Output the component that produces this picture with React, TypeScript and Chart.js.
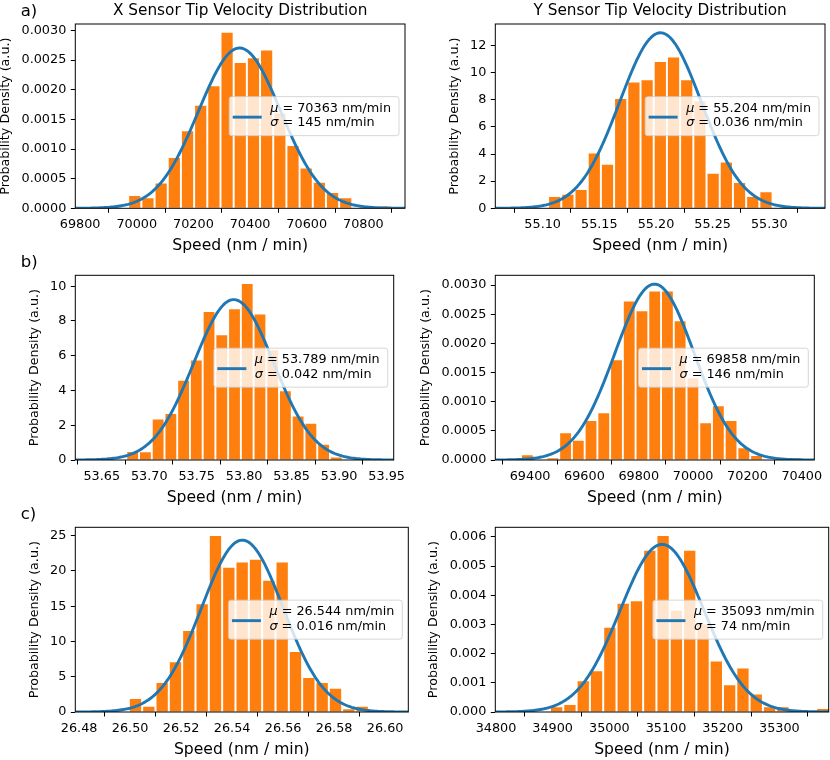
import React, { useEffect, useRef } from "react";
import { Chart, registerables } from "chart.js";

Chart.register(...registerables);

const FAMILY = '"DejaVu Sans", "Liberation Sans", sans-serif';
const BAR_COLOR = "#ff7f0e";
const LINE_COLOR = "#1f77b4";

// ---------------- text ----------------
const columnTitles = ["X Sensor Tip Velocity Distribution", "Y Sensor Tip Velocity Distribution"];
const rowLetters = ["a)", "b)", "c)"];
const xAxisLabel = "Speed (nm / min)";
const yAxisLabel = "Probability Density (a.u.)";

// ---------------- a) X sensor ----------------
const aXxTicks = ["69800", "70000", "70200", "70400", "70600", "70800"];
const aXyTicks = ["0.0000", "0.0005", "0.0010", "0.0015", "0.0020", "0.0025", "0.0030"];
const aXxLim = [69783, 70947];
const aXBinFirstCenter = 69993;
const aXBinWidth = 46.55;
const aXDensity = [0.000207, 0.000168, 0.00042, 0.000847, 0.0013, 0.00173, 0.00206, 0.00296, 0.00245, 0.00253, 0.00266, 0.0016, 0.00105, 0.00067, 0.00043, 0.00026, 0.00017, 0, 0, 0.00003];
const aXFit = [70363, 145, 0.002703]; // mu, sigma, amplitude
const aXLegend = ["70363 nm/min", "145 nm/min"];

// ---------------- a) Y sensor ----------------
const aYxTicks = ["55.10", "55.15", "55.20", "55.25", "55.30"];
const aYyTicks = ["0", "2", "4", "6", "8", "10", "12"];
const aYxLim = [55.0582, 55.3492];
const aYBinFirstCenter = 55.1106;
const aYBinWidth = 0.011656;
const aYDensity = [0.83, 1.0, 1.35, 4.04, 3.2, 8.06, 9.26, 9.43, 10.78, 11.1, 9.43, 7.89, 2.55, 3.38, 1.86, 0.83, 1.18];
const aYFit = [55.204, 0.036, 12.93];
const aYLegend = ["55.204 nm/min", "0.036 nm/min"];

// ---------------- b) X sensor ----------------
const bXxTicks = ["53.65", "53.70", "53.75", "53.80", "53.85", "53.90", "53.95"];
const bXyTicks = ["0", "2", "4", "6", "8", "10"];
const bXxLim = [53.6222, 53.9574];
const bXBinFirstCenter = 53.6826;
const bXBinWidth = 0.0134;
const bXDensity = [0.46, 0.44, 2.33, 2.65, 4.56, 5.73, 8.52, 7.17, 8.67, 10.12, 8.37, 6.31, 3.96, 2.5, 2.08, 0.88, 0.15];
const bXFit = [53.789, 0.042, 9.23];
const bXLegend = ["53.789 nm/min", "0.042 nm/min"];

// ---------------- b) Y sensor ----------------
const bYxTicks = ["69400", "69600", "69800", "70000", "70200", "70400"];
const bYyTicks = ["0.0000", "0.0005", "0.0010", "0.0015", "0.0020", "0.0025", "0.0030"];
const bYxLim = [69272, 70446];
const bYBinFirstCenter = 69390;
const bYBinWidth = 46.86;
const bYDensity = [0.00008, 0, 0.00003, 0.00046, 0.00033, 0.00067, 0.0008, 0.00171, 0.00272, 0.00255, 0.00289, 0.00289, 0.00238, 0.0014, 0.00063, 0.00092, 0.00067, 0.0002, 0.00007, 0, 0, 0.00003];
const bYFit = [69858, 146, 0.003017];
const bYLegend = ["69858 nm/min", "146 nm/min"];

// ---------------- c) X sensor ----------------
const cXxTicks = ["26.48", "26.50", "26.52", "26.54", "26.56", "26.58", "26.60"];
const cXyTicks = ["0", "5", "10", "15", "20", "25"];
const cXxLim = [26.4785, 26.6091];
const cXBinFirstCenter = 26.5021;
const cXBinWidth = 0.00523;
const cXDensity = [1.85, 0.76, 4.12, 7.05, 11.5, 15.3, 24.95, 20.45, 21.2, 21.6, 18.6, 21.2, 8.52, 4.83, 4.12, 3.31, 0.38, 0.76];
const cXFit = [26.544, 0.016, 24.38];
const cXLegend = ["26.544 nm/min", "0.016 nm/min"];

// ---------------- c) Y sensor ----------------
const cYxTicks = ["34800", "34900", "35000", "35100", "35200", "35300"];
const cYyTicks = ["0.000", "0.001", "0.002", "0.003", "0.004", "0.005", "0.006"];
const cYxLim = [34798.8, 35387];
const cYBinFirstCenter = 34907;
const cYBinWidth = 23.48;
const cYDensity = [0.00016, 0.00024, 0.00105, 0.0014, 0.00289, 0.00371, 0.0038, 0.00553, 0.00603, 0.00347, 0.00553, 0.003, 0.00173, 0.00092, 0.00149, 0.0006, 0.00016, 0.00016, 0, 0, 0.0001];
const cYFit = [35093, 74, 0.005748];
const cYLegend = ["35093 nm/min", "74 nm/min"];

// ---------------- layout (page pixels) ----------------
type PanelDef = {
  box: number[]; // axes L, T, R, B
  cl: number; ct: number; cw: number; ch: number; // canvas
  xTicks: string[]; yTicks: string[]; xLim: number[];
  first: number; bw: number; density: number[]; fit: number[]; legend: string[];
  title?: string; letter?: string;
};

const panels: PanelDef[] = [
  { box: [75.3, 24, 405, 208.3], cl: 0, ct: 0, cw: 415, ch: 257, xTicks: aXxTicks, yTicks: aXyTicks, xLim: aXxLim, first: aXBinFirstCenter, bw: aXBinWidth, density: aXDensity, fit: aXFit, legend: aXLegend, title: columnTitles[0], letter: rowLetters[0] },
  { box: [495.3, 24, 825, 208.3], cl: 405, ct: 0, cw: 425, ch: 257, xTicks: aYxTicks, yTicks: aYyTicks, xLim: aYxLim, first: aYBinFirstCenter, bw: aYBinWidth, density: aYDensity, fit: aYFit, legend: aYLegend, title: columnTitles[1] },
  { box: [75.3, 275.3, 393.7, 460], cl: 0, ct: 251, cw: 415, ch: 257, xTicks: bXxTicks, yTicks: bXyTicks, xLim: bXxLim, first: bXBinFirstCenter, bw: bXBinWidth, density: bXDensity, fit: bXFit, legend: bXLegend, letter: rowLetters[1] },
  { box: [495.3, 275.3, 814.3, 460], cl: 405, ct: 251, cw: 425, ch: 257, xTicks: bYxTicks, yTicks: bYyTicks, xLim: bYxLim, first: bYBinFirstCenter, bw: bYBinWidth, density: bYDensity, fit: bYFit, legend: bYLegend },
  { box: [75.3, 527.3, 408.3, 712], cl: 0, ct: 503, cw: 415, ch: 257, xTicks: cXxTicks, yTicks: cXyTicks, xLim: cXxLim, first: cXBinFirstCenter, bw: cXBinWidth, density: cXDensity, fit: cXFit, legend: cXLegend, letter: rowLetters[2] },
  { box: [495.3, 527.3, 828.7, 712], cl: 405, ct: 503, cw: 425, ch: 257, xTicks: cYxTicks, yTicks: cYyTicks, xLim: cYxLim, first: cYBinFirstCenter, bw: cYBinWidth, density: cYDensity, fit: cYFit, legend: cYLegend },
];

const TICK_FS = 12.8;
const CURVE_W = 2.9;
const font = (size: number, italic = false) => `${italic ? "italic " : ""}${size}px ${FAMILY}`;

function fitCurve(lim: number[], fit: number[]) {
  const [mu, sigma, amp] = fit;
  const pts: { x: number; y: number }[] = [];
  const n = 200;
  for (let i = 0; i <= n; i++) {
    const x = lim[0] + ((lim[1] - lim[0]) * i) / n;
    pts.push({ x, y: amp * Math.exp(-((x - mu) * (x - mu)) / (2 * sigma * sigma)) });
  }
  return pts;
}

function makeDecor(p: PanelDef) {
  return {
    id: "decor",
    afterDatasetsDraw(chart: any) {
      const { ctx, chartArea: ca } = chart;
      ctx.save();
      ctx.strokeStyle = "#000";
      ctx.lineWidth = 1;
      ctx.strokeRect(ca.left, ca.top, ca.right - ca.left, ca.bottom - ca.top);
      ctx.restore();
    },
    afterDraw(chart: any) {
      const { ctx, chartArea: ca } = chart;
      ctx.save();
      // ---- legend ----
      const fs = TICK_FS;
      ctx.font = font(fs, true);
      const muW = ctx.measureText("μ").width;
      const sgW = ctx.measureText("σ").width;
      ctx.font = font(fs);
      const t1 = " = " + p.legend[0];
      const t2 = " = " + p.legend[1];
      const w1 = muW + ctx.measureText(t1).width;
      const w2 = sgW + ctx.measureText(t2).width;
      const boxW = 41 + Math.max(w1, w2) + 8;
      const boxH = 39;
      const right = ca.right - 6;
      const left = right - boxW;
      const cy = (ca.top + ca.bottom) / 2;
      const top = cy - boxH / 2;
      const r = 2.5;
      ctx.beginPath();
      ctx.moveTo(left + r, top);
      ctx.lineTo(right - r, top);
      ctx.quadraticCurveTo(right, top, right, top + r);
      ctx.lineTo(right, top + boxH - r);
      ctx.quadraticCurveTo(right, top + boxH, right - r, top + boxH);
      ctx.lineTo(left + r, top + boxH);
      ctx.quadraticCurveTo(left, top + boxH, left, top + boxH - r);
      ctx.lineTo(left, top + r);
      ctx.quadraticCurveTo(left, top, left + r, top);
      ctx.closePath();
      ctx.fillStyle = "rgba(255,255,255,0.8)";
      ctx.fill();
      ctx.strokeStyle = "rgba(204,204,204,0.8)";
      ctx.lineWidth = 1;
      ctx.stroke();
      // handle
      ctx.strokeStyle = LINE_COLOR;
      ctx.lineWidth = CURVE_W;
      ctx.beginPath();
      ctx.moveTo(left + 3.5, cy + 1);
      ctx.lineTo(left + 32.5, cy + 1);
      ctx.stroke();
      // labels
      const tx = left + 41;
      ctx.fillStyle = "#000";
      ctx.textBaseline = "alphabetic";
      ctx.textAlign = "left";
      ctx.font = font(fs, true);
      ctx.fillText("μ", tx, cy - 4.5);
      ctx.fillText("σ", tx, cy + 10.3);
      ctx.font = font(fs);
      ctx.fillText(t1, tx + muW, cy - 4.5);
      ctx.fillText(t2, tx + sgW, cy + 10.3);

      // ---- title ----
      const cx = (ca.left + ca.right) / 2;
      if (p.title) {
        ctx.font = font(15.3);
        ctx.textAlign = "center";
        ctx.fillText(p.title, cx, ca.top - 8.8);
      }
      // ---- x label ----
      ctx.font = font(15.6);
      ctx.textAlign = "center";
      ctx.fillText(xAxisLabel, cx, ca.bottom + 42);
      // ---- y label ----
      ctx.font = font(TICK_FS);
      let maxW = 0;
      for (const t of p.yTicks) maxW = Math.max(maxW, ctx.measureText(t).width);
      const bx = ca.left - 9 - maxW - 12.5;
      ctx.save();
      ctx.translate(bx, cy);
      ctx.rotate(-Math.PI / 2);
      ctx.font = font(12.7);
      ctx.textAlign = "center";
      ctx.fillText(yAxisLabel, 0, 0);
      ctx.restore();
      // ---- row letter ----
      if (p.letter) {
        ctx.font = font(16.5);
        ctx.textAlign = "left";
        ctx.fillText(p.letter, ca.left - 54.6, ca.top - 8.5);
      }
      ctx.restore();
    },
  };
}

function Panel({ p }: { p: PanelDef }) {
  const ref = useRef<HTMLCanvasElement>(null);
  useEffect(() => {
    const canvas = ref.current;
    if (!canvas) return;
    const [L, T, R, B] = p.box;
    const bars = p.density.map((y, i) => ({ x: p.first + i * p.bw, y }));
    const curve = fitCurve(p.xLim, p.fit);
    const yMax = 1.05 * Math.max(Math.max(...p.density), p.fit[2]);
    const chart = new Chart(canvas, {
      type: "bar",
      data: {
        datasets: [
          {
            type: "bar",
            data: bars,
            backgroundColor: BAR_COLOR,
            borderWidth: 0,
            barPercentage: 0.85,
            categoryPercentage: 1,
            order: 1,
          } as any,
          {
            type: "line",
            data: curve,
            borderColor: LINE_COLOR,
            borderWidth: CURVE_W,
            borderJoinStyle: "round",
            pointRadius: 0,
            fill: false,
            tension: 0,
            order: 0,
            clip: 0,
          } as any,
        ],
      },
      options: {
        responsive: false,
        maintainAspectRatio: false,
        animation: false,
        devicePixelRatio: 1,
        events: [],
        layout: { padding: { left: 0, top: T - p.ct, right: p.cw - (R - p.cl), bottom: 0 } },
        plugins: { legend: { display: false }, tooltip: { enabled: false }, title: { display: false } },
        scales: {
          x: {
            type: "linear",
            min: p.xLim[0],
            max: p.xLim[1],
            offset: false,
            bounds: "data",
            grid: { drawOnChartArea: false, drawTicks: true, tickLength: 4.5, color: "#000", lineWidth: 1 },
            border: { display: false },
            ticks: {
              color: "#000",
              font: { family: FAMILY, size: TICK_FS },
              padding: 4,
              maxRotation: 0,
              minRotation: 0,
              autoSkip: false,
              includeBounds: false,
              callback: (_v: any, i: number) => p.xTicks[i] ?? "",
            },
            afterBuildTicks: (s: any) => {
              s.ticks = p.xTicks.map((t) => ({ value: parseFloat(t) }));
            },
            afterFit: (s: any) => {
              s.height = p.ch - (B - p.ct);
            },
          } as any,
          y: {
            type: "linear",
            min: 0,
            max: yMax,
            bounds: "data",
            grid: { drawOnChartArea: false, drawTicks: true, tickLength: 4.5, color: "#000", lineWidth: 1 },
            border: { display: false },
            ticks: {
              color: "#000",
              font: { family: FAMILY, size: TICK_FS },
              padding: 4.5,
              autoSkip: false,
              includeBounds: false,
              callback: (_v: any, i: number) => p.yTicks[i] ?? "",
            },
            afterBuildTicks: (s: any) => {
              s.ticks = p.yTicks.map((t) => ({ value: parseFloat(t) }));
            },
            afterFit: (s: any) => {
              s.width = L - p.cl;
            },
          } as any,
        },
      },
      plugins: [makeDecor(p)],
    });
    return () => chart.destroy();
  }, [p]);
  return (
    <canvas
      ref={ref}
      width={p.cw}
      height={p.ch}
      style={{ position: "absolute", left: p.cl, top: p.ct, width: p.cw, height: p.ch }}
    />
  );
}

export default function App() {
  return (
    <div style={{ position: "absolute", left: 0, top: 0, width: 830, height: 760, background: "#fff", overflow: "hidden" }}>
      {panels.map((p, i) => (
        <Panel key={i} p={p} />
      ))}
    </div>
  );
}
